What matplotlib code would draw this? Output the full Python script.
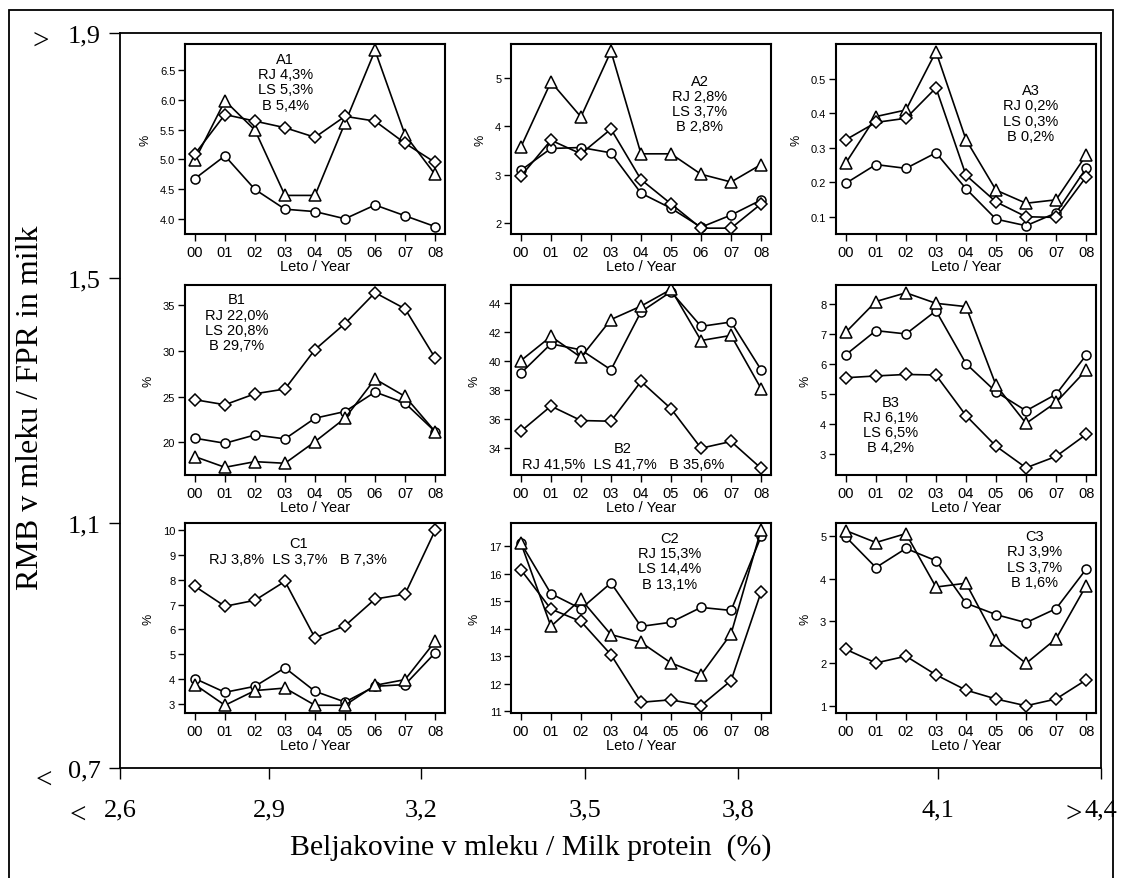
import matplotlib.pyplot as plt
from matplotlib.patches import Rectangle

years = ['00', '01', '02', '03', '04', '05', '06', '07', '08']

# circles = RJ, triangles = LS, diamonds = B
a1_rj = [4.68, 5.06, 4.50, 4.17, 4.13, 4.01, 4.24, 4.06, 3.88]
a1_ls = [4.99, 5.98, 5.49, 4.40, 4.40, 5.61, 6.82, 5.41, 4.75]
a1_b = [5.09, 5.75, 5.64, 5.53, 5.37, 5.72, 5.64, 5.27, 4.95]

a2_rj = [3.09, 3.54, 3.56, 3.45, 2.62, 2.31, 1.92, 2.17, 2.48]
a2_ls = [3.57, 4.91, 4.19, 5.54, 3.43, 3.43, 3.01, 2.85, 3.21]
a2_b = [2.97, 3.71, 3.43, 3.94, 2.90, 2.40, 1.90, 1.90, 2.40]

a3_rj = [0.197, 0.251, 0.240, 0.285, 0.181, 0.093, 0.074, 0.111, 0.240]
a3_ls = [0.256, 0.390, 0.409, 0.578, 0.323, 0.177, 0.139, 0.149, 0.278]
a3_b = [0.323, 0.373, 0.385, 0.473, 0.220, 0.143, 0.100, 0.098, 0.215]

b1_rj = [20.44, 19.89, 20.80, 20.37, 22.63, 23.36, 25.49, 24.28, 21.17]
b1_ls = [18.43, 17.26, 17.88, 17.70, 20.07, 22.63, 26.91, 25.01, 21.17]
b1_b = [24.65, 24.10, 25.30, 25.82, 30.13, 32.98, 36.35, 34.59, 29.22]

b2_rj = [39.17, 41.18, 40.77, 39.40, 43.38, 44.76, 42.38, 42.68, 39.40]
b2_ls = [40.03, 41.69, 40.26, 42.85, 43.77, 44.92, 41.41, 41.76, 38.11]
b2_b = [35.18, 36.91, 35.92, 35.87, 38.60, 36.73, 34.02, 34.48, 32.64]

b3_rj = [6.31, 7.11, 7.00, 7.77, 6.01, 5.07, 4.44, 4.99, 6.29]
b3_ls = [7.06, 8.08, 8.37, 8.02, 7.91, 5.29, 4.02, 4.72, 5.79]
b3_b = [5.54, 5.60, 5.65, 5.63, 4.28, 3.26, 2.54, 2.92, 3.65]

c1_rj = [4.03, 3.48, 3.72, 4.46, 3.52, 3.09, 3.72, 3.79, 5.06]
c1_ls = [3.79, 2.96, 3.55, 3.65, 2.96, 2.96, 3.76, 3.99, 5.52]
c1_b = [7.73, 6.93, 7.17, 7.93, 5.66, 6.15, 7.22, 7.42, 9.97]

c2_rj = [17.12, 15.28, 14.73, 15.67, 14.09, 14.24, 14.78, 14.67, 17.36]
c2_ls = [17.12, 14.09, 15.08, 13.79, 13.51, 12.76, 12.33, 13.82, 17.61]
c2_b = [16.15, 14.72, 14.27, 13.06, 11.33, 11.42, 11.21, 12.12, 15.34]

c3_rj = [4.98, 4.26, 4.71, 4.42, 3.42, 3.15, 2.96, 3.29, 4.22]
c3_ls = [5.13, 4.85, 5.06, 3.80, 3.89, 2.56, 2.00, 2.58, 3.83]
c3_b = [2.33, 2.01, 2.17, 1.73, 1.37, 1.16, 1.00, 1.16, 1.61]

a1_yticks = [4.0, 4.5, 5.0, 5.5, 6.0, 6.5]
a2_yticks = [2, 3, 4, 5]
a3_yticks = [0.1, 0.2, 0.3, 0.4, 0.5]
b1_yticks = [20, 25, 30, 35]
b2_yticks = [34, 36, 38, 40, 42, 44]
b3_yticks = [3, 4, 5, 6, 7, 8]
c1_yticks = [3, 4, 5, 6, 7, 8, 9, 10]
c2_yticks = [11, 12, 13, 14, 15, 16, 17]
c3_yticks = [1, 2, 3, 4, 5]

a1_text = ['A1', 'RJ 4,3%', 'LS 5,3%', 'B 5,4%']
a2_text = ['A2', 'RJ 2,8%', 'LS 3,7%', 'B 2,8%']
a3_text = ['A3', 'RJ 0,2%', 'LS 0,3%', 'B 0,2%']
b1_text = ['B1', 'RJ 22,0%', 'LS 20,8%', 'B 29,7%']
b2_text = ['B2', 'RJ 41,5%  LS 41,7%   B 35,6%']
b3_text = ['B3', 'RJ 6,1%', 'LS 6,5%', 'B 4,2%']
c1_text = ['C1', 'RJ 3,8%  LS 3,7%   B 7,3%']
c2_text = ['C2', 'RJ 15,3%', 'LS 14,4%', 'B 13,1%']
c3_text = ['C3', 'RJ 3,9%', 'LS 3,7%', 'B 1,6%']

protein_labels = ['2,6', '2,9', '3,2', '3,5', '3,8', '4,1', '4,4']
fpr_labels = ['0,7', '1,1', '1,5', '1,9']
fpr_ticks = [0.7, 1.1, 1.5, 1.9]

W, H = 1121, 879
fig = plt.figure(figsize=(W / 100, H / 100), dpi=100)
plt.rcParams['font.family'] = ['Liberation Sans', 'DejaVu Sans']
SERIF = ['Liberation Serif', 'DejaVu Serif']


def px_box(left, top, width, height):
    return [left / W, 1 - (top + height) / H, width / W, height / H]


# outer frame around everything
fig.patches.append(Rectangle((9 / W, -0.01), (1113 - 9) / W, 1 - 11 / H + 0.01,
                             transform=fig.transFigure, fill=False, lw=1.3, color='black'))

# big background axes: protein (x) vs FPR (y)
outer = fig.add_axes(px_box(120, 34, 981, 735))
outer.set_xlim(120, 1101)
outer.set_ylim(0.7, 1.9)
outer.set_xticks([120, 269, 421, 585, 738, 938, 1101])
outer.set_xticklabels(protein_labels, family=SERIF, fontsize=19)
outer.set_yticks(fpr_ticks)
outer.set_yticklabels(fpr_labels, family=SERIF, fontsize=19)
outer.tick_params(length=8, width=1, pad=6)
outer.tick_params(axis='x', pad=14)
for s in outer.spines.values():
    s.set_linewidth(1.3)
outer.text((531 - 120) / 981, (769 - 848) / 735, 'Beljakovine v mleku / Milk protein  (%)',
           transform=outer.transAxes, family=SERIF, fontsize=21.5, ha='center', va='center')
outer.text((31 - 120) / 981, 0.491, 'RMB v mleku / FPR in milk', rotation=90,
           transform=outer.transAxes, family=SERIF, fontsize=23, ha='center', va='center')
outer.text(-0.081, 0.99, '>', transform=outer.transAxes, family=SERIF, fontsize=21, ha='center', va='center')
outer.text(-0.078, -0.016, '<', transform=outer.transAxes, family=SERIF, fontsize=21, ha='center', va='center')
outer.text(-0.043, -0.064, '<', transform=outer.transAxes, family=SERIF, fontsize=21, ha='center', va='center')
outer.text(0.972, -0.062, '>', transform=outer.transAxes, family=SERIF, fontsize=21, ha='center', va='center')

panels = [
    (a1_rj, a1_ls, a1_b, a1_yticks, '%.1f', (3.756, 6.927), a1_text, (0.386, 0.921)),
    (a2_rj, a2_ls, a2_b, a2_yticks, '%d', (1.78, 5.69), a2_text, (0.725, 0.806)),
    (a3_rj, a3_ls, a3_b, a3_yticks, '%.1f', (0.05, 0.60), a3_text, (0.75, 0.757)),
    (b1_rj, b1_ls, b1_b, b1_yticks, '%d', (16.42, 37.19), b1_text, (0.20, 0.924)),
    (b2_rj, b2_ls, b2_b, b2_yticks, '%d', (32.18, 45.22), b2_text, (0.43, 0.142)),
    (b3_rj, b3_ls, b3_b, b3_yticks, '%d', (2.30, 8.63), b3_text, (0.21, 0.386)),
    (c1_rj, c1_ls, c1_b, c1_yticks, '%d', (2.65, 10.27), c1_text, (0.435, 0.895)),
    (c2_rj, c2_ls, c2_b, c2_yticks, '%d', (10.94, 17.85), c2_text, (0.61, 0.921)),
    (c3_rj, c3_ls, c3_b, c3_yticks, '%d', (0.83, 5.31), c3_text, (0.762, 0.93)),
]

lefts = [185, 511, 836]
tops = [45, 286, 524]
x = list(range(len(years)))

for i, (rj, ls, b, yt, fmt, ylim, txt, tpos) in enumerate(panels):
    ax = fig.add_axes(px_box(lefts[i % 3], tops[i // 3], 260, 190))
    style = dict(color='black', lw=1.2, mfc='white', mec='black', mew=1.1)
    ax.plot(x, rj, marker='o', ms=6.5, **style)
    ax.plot(x, ls, marker='^', ms=8.5, **style)
    ax.plot(x, b, marker='D', ms=6.5, **style)
    ax.set_xlim(-0.33, 8.33)
    ax.set_ylim(*ylim)
    ax.set_xticks(x)
    ax.set_xticklabels(years, fontsize=10.5)
    ax.set_yticks(yt)
    ax.set_yticklabels([fmt % v for v in yt], fontsize=8)
    ax.tick_params(direction='out', length=5, width=1, pad=2)
    ax.tick_params(axis='x', pad=3)
    for s in ax.spines.values():
        s.set_linewidth(1.5)
    ax.set_xlabel('Leto / Year', fontsize=10.5, labelpad=0)
    ax.set_ylabel('%', fontsize=9, labelpad=6)
    tx, ty = tpos
    if len(txt) == 2:
        ax.text(tx, ty, txt[0], transform=ax.transAxes, ha='center', va='center', fontsize=10.5)
        ax.text(tx, ty - 0.085, txt[1], transform=ax.transAxes, ha='center', va='center', fontsize=10.5)
    else:
        for k, line in enumerate(txt):
            ax.text(tx, ty - 0.08 * k, line, transform=ax.transAxes, ha='center', va='center', fontsize=10.5)

fig.savefig('out.png', dpi=100)
